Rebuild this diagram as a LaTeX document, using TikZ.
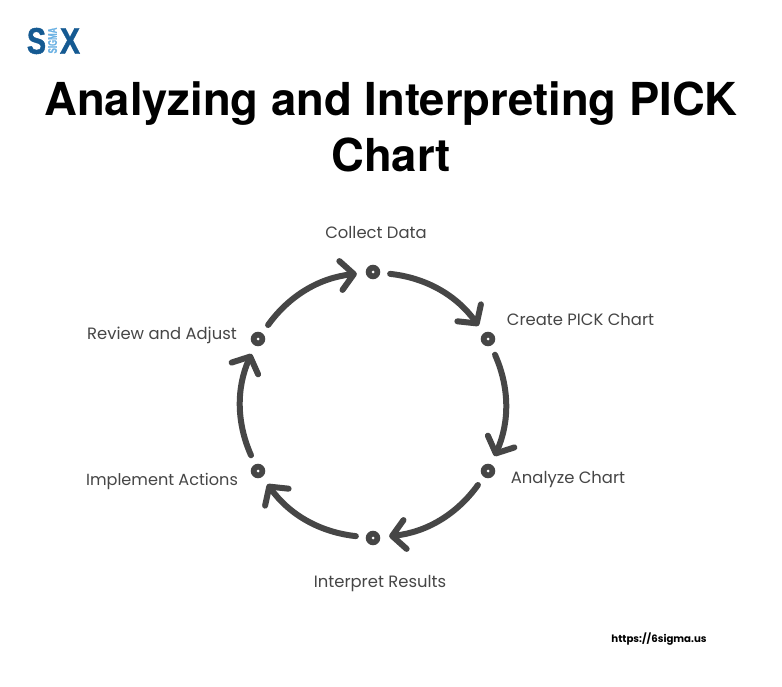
\documentclass[tikz,border=0pt]{standalone}
\usepackage{graphicx}
\usepackage{fontspec}
\setmainfont{Poppins}
\newfontface\logofont[FakeBold=1.2]{Liberation Sans Bold}
\newfontfamily\titlefont{TeX Gyre Heros}
\usetikzlibrary{arrows.meta,calc}
\definecolor{ink}{HTML}{464646}
\definecolor{logoblue}{HTML}{155A92}
\definecolor{logolight}{HTML}{6CB2E4}
\tikzset{
 stage/.style={circle,draw=ink,line width=2pt,fill=ink,minimum size=12.5pt,inner sep=0pt,outer sep=0pt},
 label/.style={text=ink,font=\fontsize{16.4}{19}\selectfont,inner sep=0pt},
 link/.style={draw=ink,line width=6pt,line cap=round,bend left=24,shorten <=11pt,shorten >=10pt,
   -{Straight Barb[length=13pt,width=29pt,line width=6pt,round]}},
 logoletter/.style={inner sep=0pt,text=logoblue,font=\logofont\fontsize{37}{37}\selectfont},
 titleline/.style={inner sep=0pt,font=\titlefont\bfseries\fontsize{45.4}{50}\selectfont},
}
\newcommand{\stagedot}[3]{\node[stage] (#1) at (#2,#3) {}; \fill[white] (#2,#3) circle (1.5pt);}
\begin{document}
\begin{tikzpicture}[x=1pt,y=-1pt]
\useasboundingbox (0,0) rectangle (782,687);
\fill[white] (0,0) rectangle (782,687);
\node[logoletter] (logoS) at (36.5,41) {\scalebox{.78}[1]{S}};
\node[logoletter] (logoX) at (70,41) {\scalebox{.82}[1]{X}};
\node[inner sep=0pt,text=logolight,rotate=90,font=\logofont\fontsize{12.5}{13}\selectfont] (logoM) at (52.5,40.5) {\scalebox{.63}[1]{SIGMA}};
\node[titleline] (t1) at (391,104) {Analyzing and Interpreting PICK};
\node[titleline] (t2) at (391,155) {Chart};
\stagedot{a}{373}{272}
\stagedot{b}{488}{339}
\stagedot{c}{488}{471}
\stagedot{d}{373}{538}
\stagedot{e}{258}{471}
\stagedot{f}{258}{339}
\path[link] (a) to (b);
\path[link] (b) to (c);
\path[link] (c) to (d);
\path[link] (d) to (e);
\path[link] (e) to (f);
\path[link] (f) to (a);
\node[label] (la) at (376,233) {Collect Data};
\node[label] (lb) at (580.5,320) {Create PICK Chart};
\node[label] (lc) at (568,480) {Analyze Chart};
\node[label] (ld) at (380,584) {Interpret Results};
\node[label,font=\fontsize{16.1}{19}\selectfont] (le) at (162,481) {Implement Actions};
\node[label] (lf) at (162,335) {Review and Adjust};
\node[inner sep=0pt,font=\fontsize{10.2}{13}\selectfont\bfseries,text=black] (url) at (659,639) {https://6sigma.us};
\end{tikzpicture}
\end{document}
